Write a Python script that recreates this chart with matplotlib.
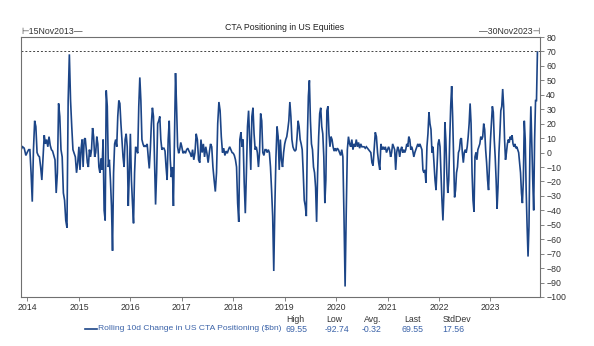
import numpy as np
import matplotlib.pyplot as plt

plt.rcParams['font.family'] = ['Liberation Sans', 'DejaVu Sans']

# rolling 10d change in CTA positioning ($bn), readings grouped by calendar year
start = 2013 + 319 / 365   # 15 Nov 2013
end = 2023 + 333 / 365     # 30 Nov 2023

v2013 = [2, 4, 3, -2]
v2014 = [0.5, 2, 2, -14, -34, 2, 22, 18, 0, -2, -3, -10, -19, -3, 12, 6, 9, 4, 11, 5,
         2, 1, -2, -5, -28, -14, 34, 25, 2, -3, -28, -33, -47, -52, 36, 68, 36, 18, 2,
         -0.5, -3, -14, -7]
v2015 = [4, -12, 2, 9, -10, 9, 10, 2, -7, -10, 2, -3, 2, 17, 11, -3, 0, 11, 6, -10,
         -14, -4, -12, 9, -40, -47, 43, 32, -10, -5, -19, -37, -68, -14, 6, 9, 4, 25,
         36, 34, 20, 9, -3, -10, 9, 13, 4, -37, -14]
v2016 = [13, -19, -35, -49, -14, 4, 2, -0.5, 32, 52, 36, 9, 6, 4, 5, 4, 6, -3, -11, 2,
         20, 31, 25, -5, -36, -14, 20, 22, 25, 9, 2, 3, 3, 1, -10, -19, 9, 22, -5, -17,
         -10, -37, 9, 55, 32, 4, -0.5, 2, 7]
v2017 = [4, -0.5, 1, -0.5, 2, 3, 1, -0.5, -3, 2, -5, 0, 13, 9, -5, -7, 9, 0, 6, -3, 4,
         -0.5, -7, 0, 6, 4, -10, -19, -27, -14, 20, 35, 29, 11, 0, 3, -2, 1, -0.5, 2, 4,
         2, 0]
v2018 = [-0.5, -2, -5, -10, -35, -48, 9, 14, 4, 9, -21, -42, -14, 18, 29, 9, -12, 25,
         31, 13, 2, 4, 0, -10, 0, 27, 22, 0, -2, 2, 2, 0, 2, 0, -10, -26, -44, -82, -37,
         -3, 18, 11, -12, 9, -5, -10, 0]
v2019 = [6, 9, 11, 16, 22, 35, 25, 9, 4, 2, 1, 2, 11, 22, 18, 9, 6, 2, -14, -33, -37,
         -44, 9, 39, 50, 22, 6, 2, -10, -14, -24, -48, -14, 11, 27, 31, 18, 13, -3, -35,
         -19, 29, 32, 13, 4, 11, 9, 4, 1, 3]
v2020 = [1, 3, 2, 0, -2, 2, -3, -44, -92.74, -42, 2, 11, 6, 4, 9, 2, 6, 4, 9, 4, 7, 3,
         6, 4, 4, 4, 3, 4, 3, 2, 1, 0, -7, -9, 2, 14, 11, 0, -7, -12, 6, 2, 4, 2, 4, 0]
v2021 = [2, 4, 2, -3, 0, 6, 4, 2, -12, 0, 4, 2, -3, 2, 4, 0, 2, 0, 2, 6, 4, 11, 9, 2,
         4, 1, -3, 0, 2, 4, 6, 4, 6, 4, 2, -12, -14, -12, -21, 4, 13, 28, 20, 16, 0, 4,
         -7, -19, -26, -10, 6]
v2022 = [9, 4, -14, -33, -47, -28, 21, 9, -14, -28, -19, 9, 32, 46, 25, -3, -31, -26,
         -14, -10, 0, 2, 9, 10, 0, -7, 0, 2, 0, 4, 11, 20, 34, 20, -14, -33, -41, -3, 0,
         -5, 2, 4, 6, 11, 9, 11, 20, 16, 2, -7, -19, -26, -7]
v2023 = [9, 20, 32, 28, 9, -3, -19, -39, -24, 0, 13, 29, 32, 44, 32, 9, -5, 0, 6, 9, 7,
         11, 9, 12, 6, 4, 6, 3, 4, 2, 0, -7, -14, -28, -35, -19, 22, 9, -26, -51, -72,
         -51, 2, 32, 6, -19, -40, 9, 36, 36, 69.55]

yearly = [(2013, v2013), (2014, v2014), (2015, v2015), (2016, v2016), (2017, v2017),
          (2018, v2018), (2019, v2019), (2020, v2020), (2021, v2021), (2022, v2022),
          (2023, v2023)]

stat_names = ['High', 'Low', 'Avg.', 'Last', 'StdDev']
stat_values = ['69.55', '-92.74', '-0.32', '69.55', '17.56']
high_level = 70
years = list(range(2014, 2024))

t, y = [], []
for yr, vals in yearly:
    n = len(vals)
    if yr == 2013:
        d = np.linspace(start, 2014, n, endpoint=False)
    elif yr == 2023:
        d = np.linspace(2023, end, n)
    else:
        d = yr + np.arange(n) / n
    t.extend(d)
    y.extend(vals)

blue = '#1c4587'
txt_blue = '#3a62a8'
grey = '#707070'

fig = plt.figure(figsize=(5.94, 3.46), dpi=100)
ax = fig.add_axes([21 / 594, 1 - 297 / 346, 519 / 594, 260 / 346])

ax.plot(t, y, color=blue, lw=1.2, solid_joinstyle='miter')
ax.axhline(high_level, color='#444444', lw=0.7, ls=(0, (2, 2)))

# a little room past the last observation so the final spike stays visible
ax.set_xlim(start, end + 0.05)
ax.set_ylim(-100, 80)
ax.set_yticks(range(-100, 81, 10))
ax.set_xticks(years)
ax.set_xticklabels([str(v) for v in years])
ax.yaxis.tick_right()
ax.tick_params(axis='both', labelsize=6.3, colors=grey, labelcolor='#333333',
               length=3, width=0.6, pad=1.5)
for s in ax.spines.values():
    s.set_color(grey)
    s.set_linewidth(0.8)

fig.text(285 / 594, 1 - 27 / 346, 'CTA Positioning in US Equities', ha='center',
         va='center', fontsize=6.3, color='#222222')
fig.text(21 / 594, 1 - 32 / 346, '\u22a215Nov2013\u2014', ha='left', va='center',
         fontsize=6.3, color='#333333')
fig.text(540 / 594, 1 - 32 / 346, '\u201430Nov2023\u22a3', ha='right', va='center',
         fontsize=6.3, color='#333333')

# legend row with summary statistics
fig.lines.append(plt.Line2D([85 / 594, 97 / 594], [1 - 329 / 346] * 2,
                            transform=fig.transFigure, color=blue, lw=1.2))
fig.text(98 / 594, 1 - 329 / 346, 'Rolling 10d Change in US CTA Positioning ($bn)',
         ha='left', va='center', fontsize=6.1, color=txt_blue)
name_x = [286, 326, 364, 404, 443]
val_x = [285, 325, 362, 402, 442]
for nm, vl, nx, vx in zip(stat_names, stat_values, name_x, val_x):
    fig.text(nx / 594, 1 - 319 / 346, nm, ha='left', va='center', fontsize=6.3,
             color='#333333')
    fig.text(vx / 594, 1 - 329 / 346, vl, ha='left', va='center', fontsize=6.3,
             color=txt_blue)

fig.savefig('out.png', dpi=100)
